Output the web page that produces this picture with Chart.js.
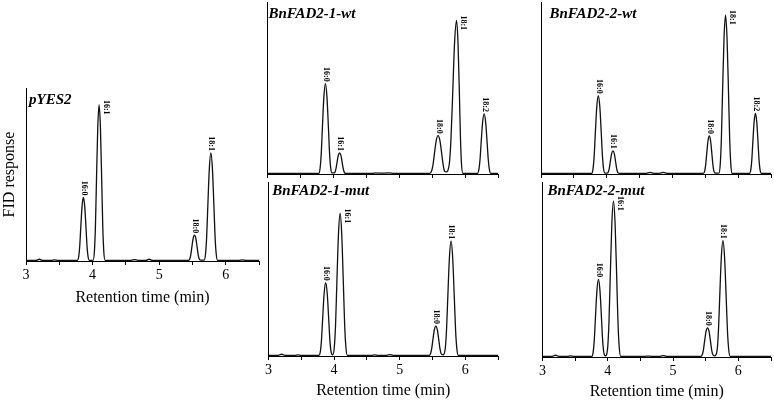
<!DOCTYPE html>
<html><head><meta charset="utf-8">
<script src="https://cdn.jsdelivr.net/npm/chart.js@4"></script>
<style>
html,body{margin:0;padding:0;background:#fff;width:774px;height:403px;overflow:hidden;}
canvas{position:absolute;}
</style></head><body>
<canvas id="c0"></canvas><canvas id="c1"></canvas><canvas id="c2"></canvas><canvas id="c3"></canvas><canvas id="c4"></canvas>
<script>
// ---------- DATA (retention time in min, FID response in % of axis height) ----------
const xTickLabels = ['3', '4', '5', '6'];
const xAxisTitle = 'Retention time (min)';
const yAxisTitle = 'FID response';
const panelNames = ['pYES2', 'BnFAD2-1-wt', 'BnFAD2-2-wt', 'BnFAD2-1-mut', 'BnFAD2-2-mut'];

const pyes2Time = [3.00,3.15,3.20,3.25,3.38,3.43,3.48,
  3.772,3.792,3.807,3.822,3.842,3.862,3.882,3.902,3.917,3.932,3.952,
  4.008,4.028,4.043,4.058,4.078,4.098,4.118,4.138,4.153,4.168,4.188,
  4.58,4.63,4.68,4.80,4.85,4.90,
  5.441,5.461,5.476,5.491,5.511,5.531,5.551,5.571,5.586,5.601,5.621,
  5.677,5.697,5.714,5.731,5.754,5.777,5.800,5.823,5.840,5.857,5.877,
  6.20,6.25,6.30,6.50];
const pyes2Signal = [0.4,0.4,1.0,0.4,0.4,0.7,0.4,
  0.4,2.6,8.5,18.8,31.6,36.7,31.6,18.8,8.5,2.6,0.4,
  0.4,5.8,20.2,45.5,77.1,90.2,77.1,45.5,20.2,5.8,0.4,
  0.4,0.8,0.4,0.4,1.0,0.4,
  0.4,1.3,3.7,7.9,13.1,14.9,13.1,7.9,3.7,1.3,0.5,
  0.5,4.2,14.2,31.7,53.5,62.5,53.5,31.7,14.2,4.2,0.4,
  0.4,0.6,0.4,0.4];

const fad21wtTime = [3.00,
  3.785,3.805,3.822,3.839,3.862,3.885,3.908,3.931,3.948,3.965,3.985,
  4.01,4.03,4.045,4.06,4.08,4.10,4.12,4.14,4.155,4.17,4.19,
  4.60,4.65,4.70,4.85,4.92,
  5.467,5.494,5.515,5.536,5.564,5.592,5.62,5.648,5.669,5.69,5.715,
  5.762,5.787,5.812,5.842,5.872,5.894,5.916,5.932,5.947,5.967,
  6.19,6.21,6.227,6.244,6.267,6.29,6.313,6.336,6.353,6.37,6.39,6.50];
const fad21wtSignal = [0.4,
  0.4,3.6,12.0,26.7,45.0,52.5,45.0,26.7,12.0,3.6,0.6,
  0.6,1.1,3.1,6.5,10.8,12.2,10.8,6.5,3.1,1.1,0.4,
  0.4,0.6,0.5,0.6,0.4,
  0.4,1.7,5.3,11.6,19.4,22.3,19.4,11.6,5.3,1.7,1.2,
  5.8,20.0,45.1,76.3,89.3,76.3,45.1,20.0,5.8,0.4,
  0.4,2.5,8.1,17.9,30.1,34.9,30.1,17.9,8.1,2.5,0.4,0.4];

const fad22wtTime = [3.00,
  3.772,3.792,3.809,3.826,3.849,3.872,3.895,3.918,3.935,3.952,3.972,
  4.005,4.025,4.04,4.055,4.075,4.095,4.115,4.135,4.15,4.165,4.185,
  4.60,4.66,4.72,4.80,4.86,4.92,
  5.471,5.491,5.506,5.521,5.541,5.561,5.581,5.601,5.616,5.631,5.651,
  5.708,5.728,5.745,5.762,5.785,5.808,5.831,5.854,5.871,5.888,5.908,
  6.173,6.193,6.208,6.223,6.243,6.263,6.283,6.303,6.318,6.333,6.353,6.50];
const fad22wtSignal = [0.4,
  0.4,3.1,10.4,23.2,39.1,45.5,39.1,23.2,10.4,3.1,0.5,
  0.5,1.2,3.4,7.2,11.9,13.5,11.9,7.2,3.4,1.2,0.4,
  0.4,0.9,0.4,0.4,0.9,0.4,
  0.4,1.7,5.3,11.5,19.2,22.1,19.2,11.5,5.3,1.7,0.5,
  0.5,5.9,20.7,46.6,78.9,92.4,78.9,46.6,20.7,5.9,0.4,
  0.4,2.5,8.2,18.1,30.4,35.3,30.4,18.1,8.2,2.5,0.4,0.4];

const fad21mutTime = [3.00,3.15,3.20,3.25,3.40,3.45,3.50,
  3.772,3.792,3.809,3.826,3.849,3.872,3.895,3.918,3.935,3.952,3.978,
  4.004,4.023,4.042,4.067,4.092,4.117,4.142,4.161,4.18,4.202,
  4.57,4.62,4.67,4.80,4.85,4.90,
  5.452,5.472,5.489,5.506,5.529,5.552,5.575,5.598,5.615,5.632,5.66,
  5.696,5.715,5.734,5.759,5.784,5.809,5.834,5.853,5.872,5.894,6.50];
const fad21mutSignal = [0.4,0.4,1.0,0.4,0.4,0.6,0.4,
  0.4,2.9,9.7,21.5,36.2,42.1,36.2,21.5,9.7,2.9,0.6,
  5.3,18.4,41.4,70.0,81.9,70.0,41.4,18.4,5.3,0.4,
  0.4,0.6,0.4,0.4,0.8,0.4,
  0.4,1.4,4.2,9.0,15.0,17.2,15.0,9.0,4.2,1.4,0.6,
  4.4,14.9,33.4,56.5,66.0,56.5,33.4,14.9,4.4,0.4,0.4];

const fad22mutTime = [3.00,3.15,3.20,3.25,3.38,3.43,3.48,
  3.757,3.777,3.794,3.811,3.834,3.857,3.880,3.903,3.920,3.937,3.963,
  3.999,4.018,4.037,4.062,4.087,4.112,4.137,4.156,4.175,4.197,
  4.57,4.62,4.67,4.80,4.85,4.90,
  5.428,5.448,5.465,5.482,5.505,5.528,5.551,5.574,5.591,5.608,5.636,
  5.676,5.695,5.714,5.739,5.764,5.789,5.814,5.833,5.852,5.874,6.50];
const fad22mutSignal = [0.4,0.4,1.0,0.4,0.4,0.6,0.4,
  0.4,3.1,10.2,22.6,38.1,44.4,38.1,22.6,10.2,3.1,0.6,
  5.7,20.0,45.0,76.1,89.1,76.1,45.0,20.0,5.7,0.4,
  0.4,0.5,0.4,0.4,0.8,0.4,
  0.4,1.4,4.1,8.8,14.6,16.7,14.6,8.8,4.1,1.4,0.6,
  4.4,15.0,33.7,56.9,66.5,56.9,33.7,15.0,4.4,0.4,0.4];

// peak labels: names, apex times, apex heights
const pyes2Peaks = ['16:0','16:1','18:0','18:1'];
const pyes2PeakTime = [3.862,4.098,5.531,5.777];
const pyes2PeakHeight = [36.7,90.2,14.9,62.5];
const fad21wtPeaks = ['16:0','16:1','18:0','18:1','18:2'];
const fad21wtPeakTime = [3.885,4.10,5.592,5.872,6.29];
const fad21wtPeakHeight = [52.5,12.2,22.3,89.3,34.9];
const fad22wtPeaks = ['16:0','16:1','18:0','18:1','18:2'];
const fad22wtPeakTime = [3.872,4.095,5.561,5.808,6.263];
const fad22wtPeakHeight = [45.5,13.5,22.1,92.4,35.3];
const fad21mutPeaks = ['16:0','16:1','18:0','18:1'];
const fad21mutPeakTime = [3.872,4.092,5.552,5.784];
const fad21mutPeakHeight = [42.1,81.9,17.2,66.0];
const fad22mutPeaks = ['16:0','16:1','18:0','18:1'];
const fad22mutPeakTime = [3.857,4.087,5.528,5.764];
const fad22mutPeakHeight = [44.4,89.1,16.7,66.5];

// ---------- LAYOUT / STYLE ----------
const SERIF = '"Liberation Serif", "Times New Roman", serif';
const panels = [
  {id:'c0', name:panelNames[0], t:pyes2Time, s:pyes2Signal, pk:pyes2Peaks, pt:pyes2PeakTime, ph:pyes2PeakHeight, place:['a','r','a','a'],
   area:{left:26, top:88, right:259, bottom:261}, xLab:true, yTitle:true, nameDx:3, nameDy:16, xH:46},
  {id:'c1', name:panelNames[1], t:fad21wtTime, s:fad21wtSignal, pk:fad21wtPeaks, pt:fad21wtPeakTime, ph:fad21wtPeakHeight, place:['a','a','a','r','a'],
   area:{left:267, top:2, right:498, bottom:174}, xLab:false, yTitle:false, nameDx:1.5, nameDy:16, xH:6},
  {id:'c2', name:panelNames[2], t:fad22wtTime, s:fad22wtSignal, pk:fad22wtPeaks, pt:fad22wtPeakTime, ph:fad22wtPeakHeight, place:['a','a','a','r','a'],
   area:{left:541, top:2, right:771, bottom:174}, xLab:false, yTitle:false, nameDx:8.5, nameDy:16, xH:6},
  {id:'c3', name:panelNames[3], t:fad21mutTime, s:fad21mutSignal, pk:fad21mutPeaks, pt:fad21mutPeakTime, ph:fad21mutPeakHeight, place:['a','r','a','a'],
   area:{left:267, top:182, right:498, bottom:356}, xLab:true, yTitle:false, nameDx:3.7, nameDy:13, xH:44},
  {id:'c4', name:panelNames[4], t:fad22mutTime, s:fad22mutSignal, pk:fad22mutPeaks, pt:fad22mutPeakTime, ph:fad22mutPeakHeight, place:['a','r','a','a'],
   area:{left:541, top:182, right:771, bottom:357}, xLab:true, yTitle:false, nameDx:5, nameDy:13, xH:44}
];

const annotatePlugin = {
  id: 'annotate',
  afterDatasetsDraw(chart) {
    const p = chart.options.plugins.annotate.panel;
    const ctx = chart.ctx, ca = chart.chartArea;
    const xs = chart.scales.x, ys = chart.scales.y;
    ctx.save();
    ctx.fillStyle = '#000';
    ctx.font = 'italic bold 15px ' + SERIF;
    ctx.textAlign = 'left';
    ctx.textBaseline = 'alphabetic';
    ctx.fillText(p.name, ca.left + p.nameDx, ca.top + p.nameDy);
    ctx.font = 'bold 8px ' + SERIF;
    ctx.textBaseline = 'middle';
    p.pk.forEach((lab, i) => {
      const px = xs.getPixelForValue(p.pt[i]);
      const py = ys.getPixelForValue(p.ph[i]);
      ctx.save();
      if (p.place[i] === 'a') {
        ctx.translate(px + 0.5, py - 2);
        ctx.rotate(Math.PI / 2);
        ctx.textAlign = 'right';
      } else {
        ctx.translate(px + 7, py - 5);
        ctx.rotate(Math.PI / 2);
        ctx.textAlign = 'left';
      }
      ctx.fillText(lab, 0, 0);
      ctx.restore();
    });
    ctx.restore();
  }
};

panels.forEach(p => {
  const yW = p.yTitle ? 26 : 0;
  const padL = p.yTitle ? 0 : 4, padT = 2, padR = 3;
  const cw = yW + padL + (p.area.right - p.area.left) + padR;
  const ch = padT + (p.area.bottom - p.area.top) + p.xH;
  const cv = document.getElementById(p.id);
  cv.width = cw; cv.height = ch;
  cv.style.width = cw + 'px'; cv.style.height = ch + 'px';
  cv.style.left = (p.area.left - yW - padL) + 'px';
  cv.style.top = (p.area.top - padT) + 'px';
  new Chart(cv, {
    type: 'line',
    data: {
      datasets: [{
        data: p.t.map((t, i) => ({x: t, y: p.s[i]})),
        borderColor: '#111', borderWidth: 1.3, pointRadius: 0,
        cubicInterpolationMode: 'monotone', fill: false
      }]
    },
    options: {
      responsive: false, animation: false, devicePixelRatio: 1, events: [],
      layout: {padding: {left: padL, top: padT, right: padR, bottom: 0}},
      plugins: {legend: {display: false}, tooltip: {enabled: false}, annotate: {panel: p}},
      scales: {
        x: {
          type: 'linear', min: 3, max: 6.5,
          afterFit(s) { s.height = p.xH; },
          border: {display: true, color: '#000', width: 1},
          grid: {display: true, drawOnChartArea: false, drawTicks: true, tickLength: 4, color: '#000'},
          ticks: {
            stepSize: 0.5, padding: 2, color: '#000', maxRotation: 0, autoSkip: false,
            font: {family: SERIF, size: 14},
            callback: v => {
              if (!p.xLab) return '';
              const lab = String(v);
              return xTickLabels.includes(lab) ? lab : '';
            }
          },
          title: {display: p.xLab, text: xAxisTitle, color: '#000', font: {family: SERIF, size: 16}, padding: {top: 0, bottom: 0}}
        },
        y: {
          type: 'linear', min: 0, max: 100,
          afterFit(s) { s.width = yW; },
          border: {display: true, color: '#000', width: 1},
          grid: {display: false, drawTicks: false},
          ticks: {display: false},
          title: {display: p.yTitle, text: yAxisTitle, color: '#000', font: {family: SERIF, size: 16}, padding: {top: 0, bottom: 0}}
        }
      }
    },
    plugins: [annotatePlugin]
  });
});
</script>
</body></html>
